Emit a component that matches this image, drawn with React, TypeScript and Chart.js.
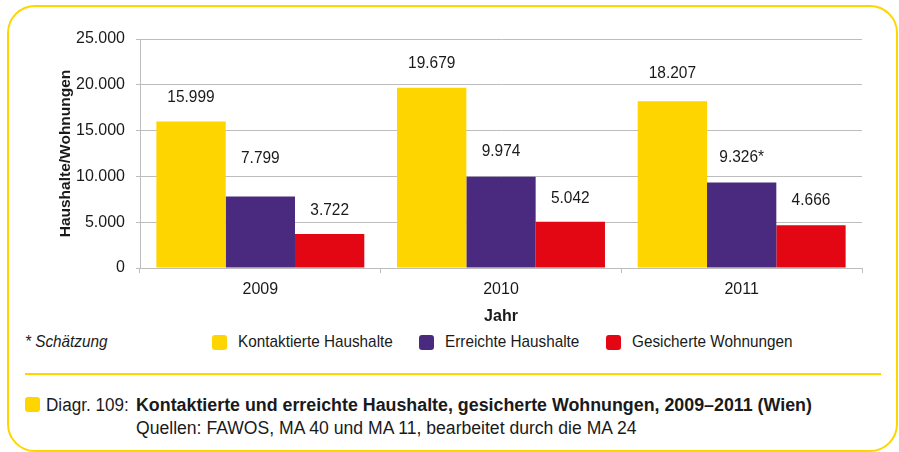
import React, { useEffect, useRef } from "react";
import { Chart, registerables } from "chart.js";

Chart.register(...registerables);

// ---------- data ----------
const years = ["2009", "2010", "2011"];
const seriesNames = ["Kontaktierte Haushalte", "Erreichte Haushalte", "Gesicherte Wohnungen"];
const kontaktiert = [15999, 19679, 18207];
const erreicht = [7799, 9974, 9326];
const gesichert = [3722, 5042, 4666];
const kontaktiertSuffix = ["", "", ""];
const erreichtSuffix = ["", "", "*"];
const gesichertSuffix = ["", "", ""];
const yTickValues = [0, 5000, 10000, 15000, 20000, 25000];
const yAxisTitle = "Haushalte/Wohnungen";
const xAxisTitle = "Jahr";
const footnote = "* Schätzung";
const captionLabel = "Diagr. 109:";
const captionTitle = "Kontaktierte und erreichte Haushalte, gesicherte Wohnungen, 2009–2011 (Wien)";
const captionSource = "Quellen: FAWOS, MA 40 und MA 11, bearbeitet durch die MA 24";

// ---------- style ----------
const FONT = '"Liberation Sans", Arial, sans-serif';
const COLORS = ["#FFD500", "#4A2A7F", "#E30613"];
const FRAME = "#FFD500";
const TEXT = "#1a1a1a";
const GRID = "#bdbdbd";
// label lift above each bar top (px), [dataset][category]
const LABEL_LIFT = [
  [24, 24, 28],
  [38, 25, 25],
  [24, 24, 25],
];

function fmt(v: number): string {
  const s = Math.round(v).toString();
  return s.replace(/\B(?=(\d{3})+(?!\d))/g, ".");
}

const valueLabels = {
  id: "valueLabels",
  afterDatasetsDraw(chart: any) {
    const ctx = chart.ctx;
    const suffixes = [kontaktiertSuffix, erreichtSuffix, gesichertSuffix];
    chart.data.datasets.forEach((ds: any, di: number) => {
      const meta = chart.getDatasetMeta(di);
      meta.data.forEach((el: any, i: number) => {
        const txt = fmt(ds.data[i]) + (suffixes[di][i] || "");
        ctx.save();
        ctx.font = `17px ${FONT}`;
        ctx.fillStyle = TEXT;
        ctx.textAlign = "center";
        ctx.textBaseline = "middle";
        ctx.translate(el.x, el.y - LABEL_LIFT[di][i]);
        ctx.scale(0.91, 1);
        ctx.fillText(txt, 0, 0);
        ctx.restore();
      });
    });
  },
};

export default function App() {
  const canvasRef = useRef<HTMLCanvasElement | null>(null);

  useEffect(() => {
    document.body.style.margin = "0";
    const canvas = canvasRef.current;
    if (!canvas) return;
    const chart = new Chart(canvas, {
      type: "bar",
      data: {
        labels: years,
        datasets: [
          { label: seriesNames[0], data: kontaktiert, backgroundColor: COLORS[0] },
          { label: seriesNames[1], data: erreicht, backgroundColor: COLORS[1] },
          { label: seriesNames[2], data: gesichert, backgroundColor: COLORS[2] },
        ],
      },
      options: {
        responsive: false,
        animation: false,
        devicePixelRatio: 1,
        layout: { padding: { left: 0, right: 37, top: 39, bottom: 0 } },
        datasets: { bar: { categoryPercentage: 0.864, barPercentage: 1, borderWidth: 0 } },
        plugins: {
          legend: { display: false },
          tooltip: { enabled: false },
        },
        scales: {
          x: {
            grid: {
              display: true,
              drawOnChartArea: false,
              drawTicks: true,
              tickLength: 5,
              color: GRID,
            },
            border: { display: true, color: GRID, width: 1 },
            ticks: { color: TEXT, font: { family: FONT, size: 16 }, padding: 7 },
            title: {
              display: true,
              text: xAxisTitle,
              color: TEXT,
              font: { family: FONT, size: 16, weight: "bold" },
              padding: { top: 0, bottom: 0 },
            },
            afterFit(scale: any) {
              scale.height = 326 - 268;
            },
          },
          y: {
            min: 0,
            max: 25000,
            afterBuildTicks(scale: any) {
              scale.ticks = yTickValues.map((v) => ({ value: v }));
            },
            grid: { color: GRID, lineWidth: 1, drawTicks: true, tickLength: 4 },
            border: { display: true, color: GRID, width: 1 },
            ticks: {
              color: TEXT,
              font: { family: FONT, size: 16 },
              padding: 11,
              callback: (v: any) => fmt(Number(v)),
            },
            title: {
              display: true,
              text: yAxisTitle,
              color: TEXT,
              font: { family: FONT, size: 15.5, weight: "bold" },
              padding: { top: 56, bottom: 0 },
            },
            afterFit(scale: any) {
              scale.width = 140;
            },
          },
        },
      } as any,
      plugins: [valueLabels],
    });
    return () => chart.destroy();
  }, []);

  const legendX = [212, 419, 606];
  const abs = (o: any) => ({ position: "absolute" as const, ...o });
  const squeeze = (k: number) => ({ transform: `scaleX(${k})`, transformOrigin: "left center" });

  return (
    <div style={{ position: "relative", width: 899, height: 452, background: "#fff", fontFamily: FONT, color: TEXT, overflow: "hidden" }}>
      <div
        style={abs({
          left: 7,
          top: 5,
          width: 891,
          height: 447,
          boxSizing: "border-box",
          border: `2.5px solid ${FRAME}`,
          borderRadius: 28,
        })}
      />
      <canvas ref={canvasRef} width={899} height={326} style={abs({ left: 0, top: 0, width: 899, height: 326 })} />
      {/* footnote */}
      <div style={abs({ left: 25, top: 333, fontSize: 17, lineHeight: "17px", fontStyle: "italic", whiteSpace: "nowrap", ...squeeze(0.9) })}>{footnote}</div>
      {/* legend */}
      {seriesNames.map((name, i) => (
        <React.Fragment key={name}>
          <div style={abs({ left: legendX[i], top: 335, width: 15, height: 15, background: COLORS[i], borderRadius: 3 })} />
          <div style={abs({ left: legendX[i] + 26, top: 333, fontSize: 17, lineHeight: "17px", whiteSpace: "nowrap", ...squeeze(0.9) })}>{name}</div>
        </React.Fragment>
      ))}
      {/* separator */}
      <div style={abs({ left: 25, top: 373, width: 856, height: 2, background: FRAME })} />
      {/* caption */}
      <div style={abs({ left: 25, top: 397, width: 15, height: 15, background: FRAME, borderRadius: 3 })} />
      <div style={abs({ left: 46, top: 396, fontSize: 18, lineHeight: "18px", whiteSpace: "nowrap", ...squeeze(0.95) })}>{captionLabel}</div>
      <div style={abs({ left: 136, top: 396, fontSize: 18, lineHeight: "18px", fontWeight: "bold", whiteSpace: "nowrap", ...squeeze(0.99) })}>{captionTitle}</div>
      <div style={abs({ left: 136, top: 419, fontSize: 18, lineHeight: "18px", whiteSpace: "nowrap", ...squeeze(0.977) })}>{captionSource}</div>
    </div>
  );
}
